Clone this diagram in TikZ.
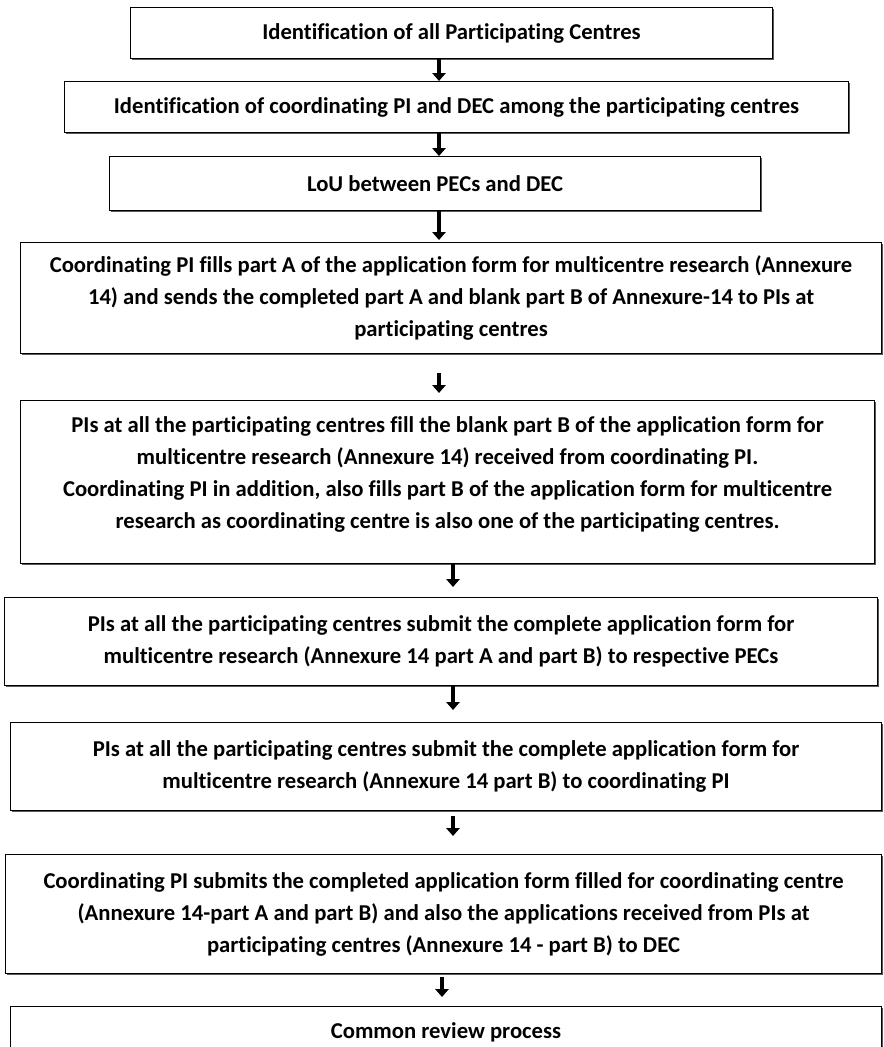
\documentclass[tikz,border=0pt]{standalone}
\usepackage{fontspec}
\setmainfont{Carlito}[Ligatures=CommonOff]
\usepackage{tikz}
\usetikzlibrary{arrows.meta, positioning, shadows}

\begin{document}
\begin{tikzpicture}[
        >=Triangle,
        node distance=15pt,
        % Cajas de cada paso, texto en negrita centrado
        stepbox/.style={draw, line width=0.75pt, fill=white, align=center, inner sep=2pt,
            font=\bfseries\fontsize{17}{24}\selectfont,
            general shadow={fill=black!65, shadow xshift=0.9pt, shadow yshift=-0.9pt}},
        flow/.style={-{Triangle[width=10pt,length=6pt]}, line width=3.4pt}
    ]
        % Fondo y margenes
        \fill[white, use as bounding box] (-97.5pt,5.25pt) rectangle (564.75pt,-780pt);

        % Pasos iniciales
        \node[stepbox, anchor=north west, minimum width=481.5pt, minimum height=38.25pt] (allcentres) at (0,0)
            {Identification of all Participating Centres};
        \node[stepbox, below=16.5pt of allcentres, xshift=3.75pt, minimum width=588pt, minimum height=38.25pt] (coordpi)
            {Identification of coordinating PI and DEC among the participating centres};
        \node[stepbox, below=17.25pt of coordpi, xshift=-16.1pt, minimum width=488.25pt, minimum height=40.5pt] (lou)
            {LoU between PECs and DEC};

        % Formularios del Anexo 14
        \node[stepbox, below=23.25pt of lou, xshift=12pt, minimum width=645.75pt, minimum height=83.25pt] (partA) {
            Coordinating PI fills part A of the application form for multicentre research (Annexure \\
            14) and sends the completed part A and blank part B of Annexure-14 to PIs at \\
            participating centres
        };
        \node[stepbox, below=34.5pt of partA, xshift=-2.6pt, minimum width=640.5pt, minimum height=122.25pt] (partB) {
            PIs at all the participating centres fill the blank part B of the application form for \\
            multicentre research (Annexure 14) received from coordinating PI. \\
            Coordinating PI in addition, also fills part B of the application form for multicentre \\
            research as coordinating centre is also one of the participating centres. \\[-10pt] \mbox{}
        };

        % Envios a PECs, PI y DEC
        \node[stepbox, below=24.75pt of partB, xshift=-4.9pt, minimum width=654.75pt, minimum height=66pt] (topec) {
            PIs at all the participating centres submit the complete application form for \\
            multicentre research (Annexure 14 part A and part B) to respective PECs
        };
        \node[stepbox, below=27pt of topec, xshift=3.75pt, minimum width=653.25pt, minimum height=66pt] (topi) {
            PIs at all the participating centres submit the complete application form for \\
            multicentre research (Annexure 14 part B) to coordinating PI
        };
        \node[stepbox, below=32.25pt of topi, xshift=-1.9pt, minimum width=657pt, minimum height=89.25pt] (todec) {
            Coordinating PI submits the completed application form filled for coordinating centre \\
            (Annexure 14-part A and part B) and also the applications received from PIs at \\
            participating centres (Annexure 14 - part B) to DEC
        };
        \node[stepbox, below=24pt of todec, xshift=1.9pt, minimum width=653.25pt, minimum height=39pt] (review)
            {Common review process};

        % Flechas (tres ejes verticales casi iguales)
        \coordinate (axisA) at (231.75pt,0);
        \coordinate (axisB) at (242.25pt,0);
        \coordinate (axisC) at (234pt,0);
        \draw[flow] (allcentres.south -| axisA) -- (coordpi.north -| axisA);
        \draw[flow] (coordpi.south -| axisA) -- (lou.north -| axisA);
        \draw[flow, shorten >=1.5pt] (lou.south -| axisA) -- (partA.north -| axisA);
        \draw[flow, shorten <=14.25pt, shorten >=5.25pt] (partA.south -| axisA) -- (partB.north -| axisA);
        \draw[flow, shorten >=7.5pt] (partB.south -| axisB) -- (topec.north -| axisB);
        \draw[flow, shorten >=9pt] (topec.south -| axisB) -- (topi.north -| axisB);
        \draw[flow, shorten <=3.75pt, shorten >=13.5pt] (topi.south -| axisB) -- (todec.north -| axisB);
        \draw[flow, shorten <=2.25pt, shorten >=6.75pt] (todec.south -| axisC) -- (review.north -| axisC);

    \end{tikzpicture}
\end{document}
